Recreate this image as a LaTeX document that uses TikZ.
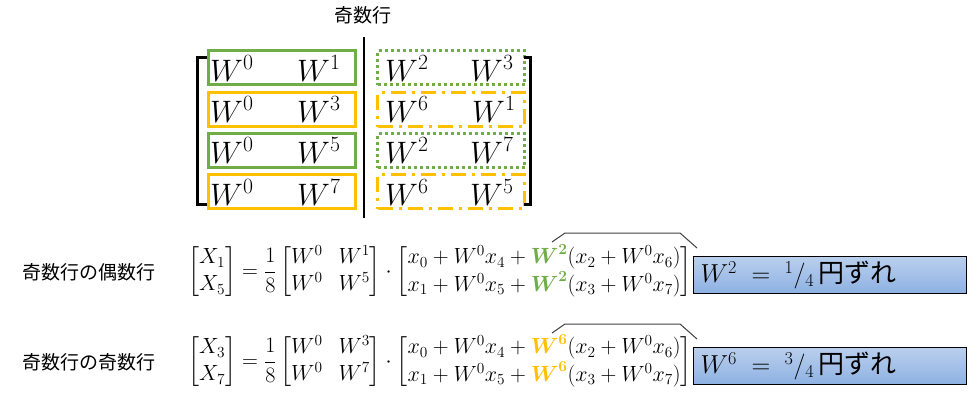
\RequirePackage{fix-cm}
\documentclass[tikz,border=0pt]{standalone}
\usepackage{amsmath,amsbsy}
\usepackage{fontspec}
\newfontfamily\jp{Noto Sans CJK JP}
\definecolor{pgreen}{HTML}{70AD47}
\definecolor{porange}{HTML}{FFC000}
\definecolor{bluetop}{RGB}{186,207,237}
\definecolor{bluebot}{RGB}{141,177,226}
\newcommand{\cw}[2]{\textcolor{#1}{\boldsymbol{W}^{\boldsymbol{#2}}}}
\begin{document}
\begin{tikzpicture}[x=1pt,y=-1pt,
  rowbox/.style={line width=3pt, minimum width=147pt, minimum height=34pt, inner sep=0pt, anchor=north west},
  solidgreen/.style={rowbox, draw=pgreen},
  solidorange/.style={rowbox, draw=porange},
  dotgreen/.style={rowbox, draw=pgreen, dash pattern=on 3pt off 3pt},
  dashorange/.style={rowbox, draw=porange, dash pattern=on 15pt off 6pt on 3pt off 6pt},
  wtxt/.style={anchor=base west, inner sep=0pt, font=\fontsize{31}{37}\selectfont},
  jptxt/.style={font=\jp\fontsize{19}{23}\selectfont, inner sep=0pt},
  eqtxt/.style={anchor=west, inner sep=0pt, font=\fontsize{22}{27}\selectfont\setlength\arraycolsep{8pt}},
  bluebox/.style={draw=black, line width=1.3pt, top color=bluetop, bottom color=bluebot,
    minimum height=37pt, text width=259pt, inner xsep=7pt, inner ysep=0pt, align=left, anchor=north west,
    font=\fontsize{26}{30}\selectfont},
  callout/.style={draw=black!75, line width=1pt},
  bracketline/.style={line width=3pt}
]
\useasboundingbox[fill=white] (0,0) rectangle (977,407);

% title
\node[jptxt] (title) at (363,15) {奇数行};

% left solid boxes
\node[solidgreen]  (L1) at (207,49)  {};
\node[solidorange] (L2) at (207,91)  {};
\node[solidgreen]  (L3) at (207,132) {};
\node[solidorange] (L4) at (207,173) {};
% right dashed boxes
\node[dotgreen]   (R1) at (376,49)  {};
\node[dashorange] (R2) at (376,91)  {};
\node[dotgreen]   (R3) at (376,132) {};
\node[dashorange] (R4) at (376,173) {};

% entries
\node[wtxt] (a11) at (210,81)  {$W^0$};
\node[wtxt] (a12) at (297,81)  {$W^1$};
\node[wtxt] (a13) at (385,81)  {$W^2$};
\node[wtxt] (a14) at (470,81)  {$W^3$};
\node[wtxt] (a21) at (210,122) {$W^0$};
\node[wtxt] (a22) at (297,122) {$W^3$};
\node[wtxt] (a23) at (385,122) {$W^6$};
\node[wtxt] (a24) at (472,122) {$W^1$};
\node[wtxt] (a31) at (210,163) {$W^0$};
\node[wtxt] (a32) at (297,163) {$W^5$};
\node[wtxt] (a33) at (385,163) {$W^2$};
\node[wtxt] (a34) at (470,163) {$W^7$};
\node[wtxt] (a41) at (210,205) {$W^0$};
\node[wtxt] (a42) at (297,205) {$W^7$};
\node[wtxt] (a43) at (385,205) {$W^6$};
\node[wtxt] (a44) at (470,205) {$W^5$};

% brackets and divider
\draw[bracketline] (207,57) -- (197,57) -- (197,204) -- (207,204);
\draw[bracketline] (524,57) -- (530,57) -- (530,204) -- (524,204);
\draw[line width=2pt] (364,37) -- (364,218);

% row labels
\node[jptxt, anchor=west] (lab1) at (22,272) {奇数行の偶数行};
\node[jptxt, anchor=west] (lab2) at (22,362) {奇数行の奇数行};

% equations
\node[eqtxt] (eq1) at (188,272) {$\displaystyle
  \begin{bmatrix}X_1\\X_5\end{bmatrix}=\frac{1}{8}
  \begin{bmatrix}W^0 & W^1\\W^0 & W^5\end{bmatrix}\cdot
  \begin{bmatrix}x_0+W^0x_4+\cw{pgreen}{2}(x_2+W^0x_6)\\x_1+W^0x_5+\cw{pgreen}{2}(x_3+W^0x_7)\end{bmatrix}$};
\node[eqtxt] (eq2) at (188,362) {$\displaystyle
  \begin{bmatrix}X_3\\X_7\end{bmatrix}=\frac{1}{8}
  \begin{bmatrix}W^0 & W^3\\W^0 & W^7\end{bmatrix}\cdot
  \begin{bmatrix}x_0+W^0x_4+\cw{porange}{6}(x_2+W^0x_6)\\x_1+W^0x_5+\cw{porange}{6}(x_3+W^0x_7)\end{bmatrix}$};

% blue boxes
\node[bluebox] (b1) at (693,256) {$W^2\;=\;{}^1/_4$\,{\jp\fontsize{26}{30}\selectfont 円ずれ}};
\node[bluebox] (b2) at (693,347) {$W^6\;=\;{}^3/_4$\,{\jp\fontsize{26}{30}\selectfont 円ずれ}};

% callouts
\coordinate (c1a) at (552,242);
\coordinate (c1b) at (565,233);
\coordinate (c1c) at (680,233);
\coordinate (c1d) at ([shift={(4,-8)}]b1.north west);
\draw[callout] (c1a) -- (c1b) -- (c1c) -- (c1d);
\coordinate (c2a) at (552,333);
\coordinate (c2b) at (565,324);
\coordinate (c2c) at (680,324);
\coordinate (c2d) at ([shift={(4,-8)}]b2.north west);
\draw[callout] (c2a) -- (c2b) -- (c2c) -- (c2d);
\end{tikzpicture}
\end{document}
